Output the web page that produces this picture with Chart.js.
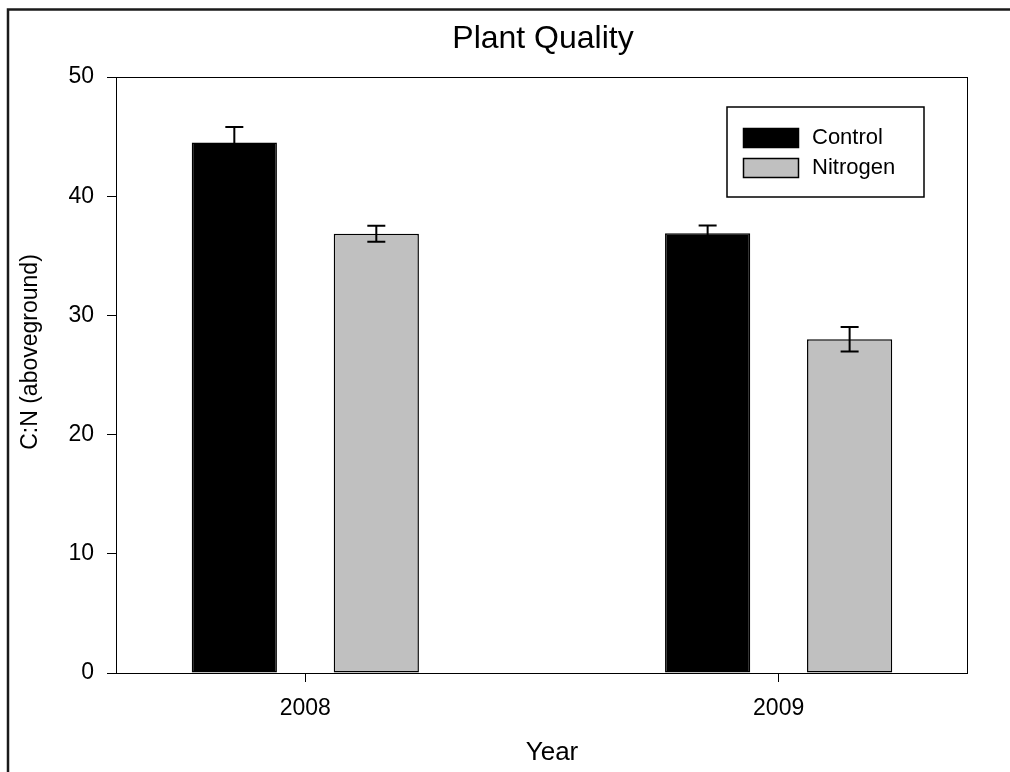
<!DOCTYPE html>
<html>
<head>
<meta charset="utf-8">
<title>Plant Quality</title>
<script src="https://cdn.jsdelivr.net/npm/chart.js@4.4.1/dist/chart.umd.min.js"></script>
<style>
  html, body { margin: 0; padding: 0; background: #fff; }
  canvas { display: block; }
</style>
</head>
<body>
<canvas id="plantChart" width="1010" height="772"></canvas>
<script>
// Chart data
const years = [2008, 2009];
const seriesNames = ['Control', 'Nitrogen'];
const controlValues = [44.5, 36.9];
const controlErrors = [1.3, 0.65];
const nitrogenValues = [36.85, 28.0];
const nitrogenErrors = [0.68, 1.02];
const yTicks = [0, 10, 20, 30, 40, 50];

const FONT = '"Liberation Sans", Arial, Helvetica, sans-serif';

// Error bars drawn on top of each bar
const errorBars = {
    id: 'errorBars',
    afterDatasetsDraw(chart) {
        const ctx = chart.ctx;
        const y = chart.scales.y;
        ctx.save();
        ctx.strokeStyle = '#000';
        ctx.lineWidth = 2;
        chart.data.datasets.forEach((ds, i) => {
            const meta = chart.getDatasetMeta(i);
            meta.data.forEach((bar, j) => {
                const v = ds.data[j].y;
                const e = ds.errors[j];
                const top = y.getPixelForValue(v + e);
                const bot = y.getPixelForValue(v - e);
                ctx.beginPath();
                ctx.moveTo(bar.x, top);
                ctx.lineTo(bar.x, bot);
                ctx.moveTo(bar.x - 9, top);
                ctx.lineTo(bar.x + 9, top);
                ctx.moveTo(bar.x - 9, bot);
                ctx.lineTo(bar.x + 9, bot);
                ctx.stroke();
            });
        });
        ctx.restore();
    }
};

// Frame, plot box, titles and boxed legend
const decorations = {
    id: 'decorations',
    afterDraw(chart) {
        const ctx = chart.ctx;
        const a = chart.chartArea;
        ctx.save();

        // outer frame (cut off at right and bottom)
        ctx.strokeStyle = '#1a1a1a';
        ctx.lineWidth = 2.5;
        ctx.strokeRect(8, 9.5, 1010, 800);

        // plot box
        ctx.strokeStyle = '#000';
        ctx.lineWidth = 1;
        ctx.strokeRect(Math.round(a.left) + 0.5, Math.round(a.top) + 0.5,
            Math.round(a.right - a.left), Math.round(a.bottom - a.top));

        ctx.fillStyle = '#000';
        ctx.textAlign = 'center';
        ctx.textBaseline = 'alphabetic';
        ctx.font = '32px ' + FONT;
        ctx.fillText('Plant Quality', 543, 48);

        ctx.font = '26px ' + FONT;
        ctx.fillText('Year', 552, 760);

        ctx.save();
        ctx.translate(37, 352);
        ctx.rotate(-Math.PI / 2);
        ctx.font = '23px ' + FONT;
        ctx.fillText('C:N (aboveground)', 0, 0);
        ctx.restore();

        // legend
        ctx.lineWidth = 1.5;
        ctx.fillStyle = '#fff';
        ctx.fillRect(727, 107, 197, 90);
        ctx.strokeRect(727, 107, 197, 90);
        ctx.font = '22px ' + FONT;
        ctx.textAlign = 'left';
        ctx.textBaseline = 'middle';
        chart.data.datasets.forEach((ds, i) => {
            const top = 128 + i * 30;
            ctx.fillStyle = ds.backgroundColor;
            ctx.fillRect(743, top, 55, 19);
            ctx.lineWidth = 1.5;
            ctx.strokeStyle = '#000';
            ctx.strokeRect(743.5, top + 0.5, 55, 19);
            ctx.fillStyle = '#000';
            ctx.fillText(ds.label, 812, top + 10);
        });
        ctx.restore();
    }
};

const ctx = document.getElementById('plantChart').getContext('2d');
new Chart(ctx, {
    type: 'bar',
    data: {
        datasets: [{
            label: seriesNames[0],
            data: years.map((yr, i) => ({ x: yr, y: controlValues[i] })),
            errors: controlErrors,
            backgroundColor: '#000000',
            borderColor: '#000000',
            borderWidth: 1.5,
            borderSkipped: false
        }, {
            label: seriesNames[1],
            data: years.map((yr, i) => ({ x: yr, y: nitrogenValues[i] })),
            errors: nitrogenErrors,
            backgroundColor: '#c0c0c0',
            borderColor: '#000000',
            borderWidth: 1.5,
            borderSkipped: false
        }]
    },
    options: {
        responsive: false,
        animation: false,
        barPercentage: 0.6,
        categoryPercentage: 0.6,
        layout: { padding: { left: 0, top: 77, right: 43, bottom: 0 } },
        scales: {
            x: {
                type: 'linear',
                min: 2007.6,
                max: 2009.398,
                offset: false,
                afterBuildTicks: scale => { scale.ticks = years.map(v => ({ value: v })); },
                afterFit: scale => { scale.height = 99; },
                grid: { offset: false, drawOnChartArea: false, tickLength: 9, color: '#000', tickWidth: 1 },
                border: { color: '#000', width: 1 },
                ticks: {
                    color: '#000',
                    padding: 13,
                    maxRotation: 0,
                    font: { family: FONT, size: 23 },
                    callback: v => String(v)
                }
            },
            y: {
                min: 0,
                max: 50,
                afterBuildTicks: scale => { scale.ticks = yTicks.map(v => ({ value: v })); },
                afterFit: scale => { scale.width = 116; },
                grid: { drawOnChartArea: false, tickLength: 9, color: '#000', tickWidth: 1 },
                border: { color: '#000', width: 1 },
                ticks: {
                    color: '#000',
                    padding: 13,
                    font: { family: FONT, size: 23 }
                }
            }
        },
        plugins: {
            legend: { display: false },
            title: { display: false },
            tooltip: { enabled: false }
        }
    },
    plugins: [errorBars, decorations]
});
</script>
</body>
</html>
